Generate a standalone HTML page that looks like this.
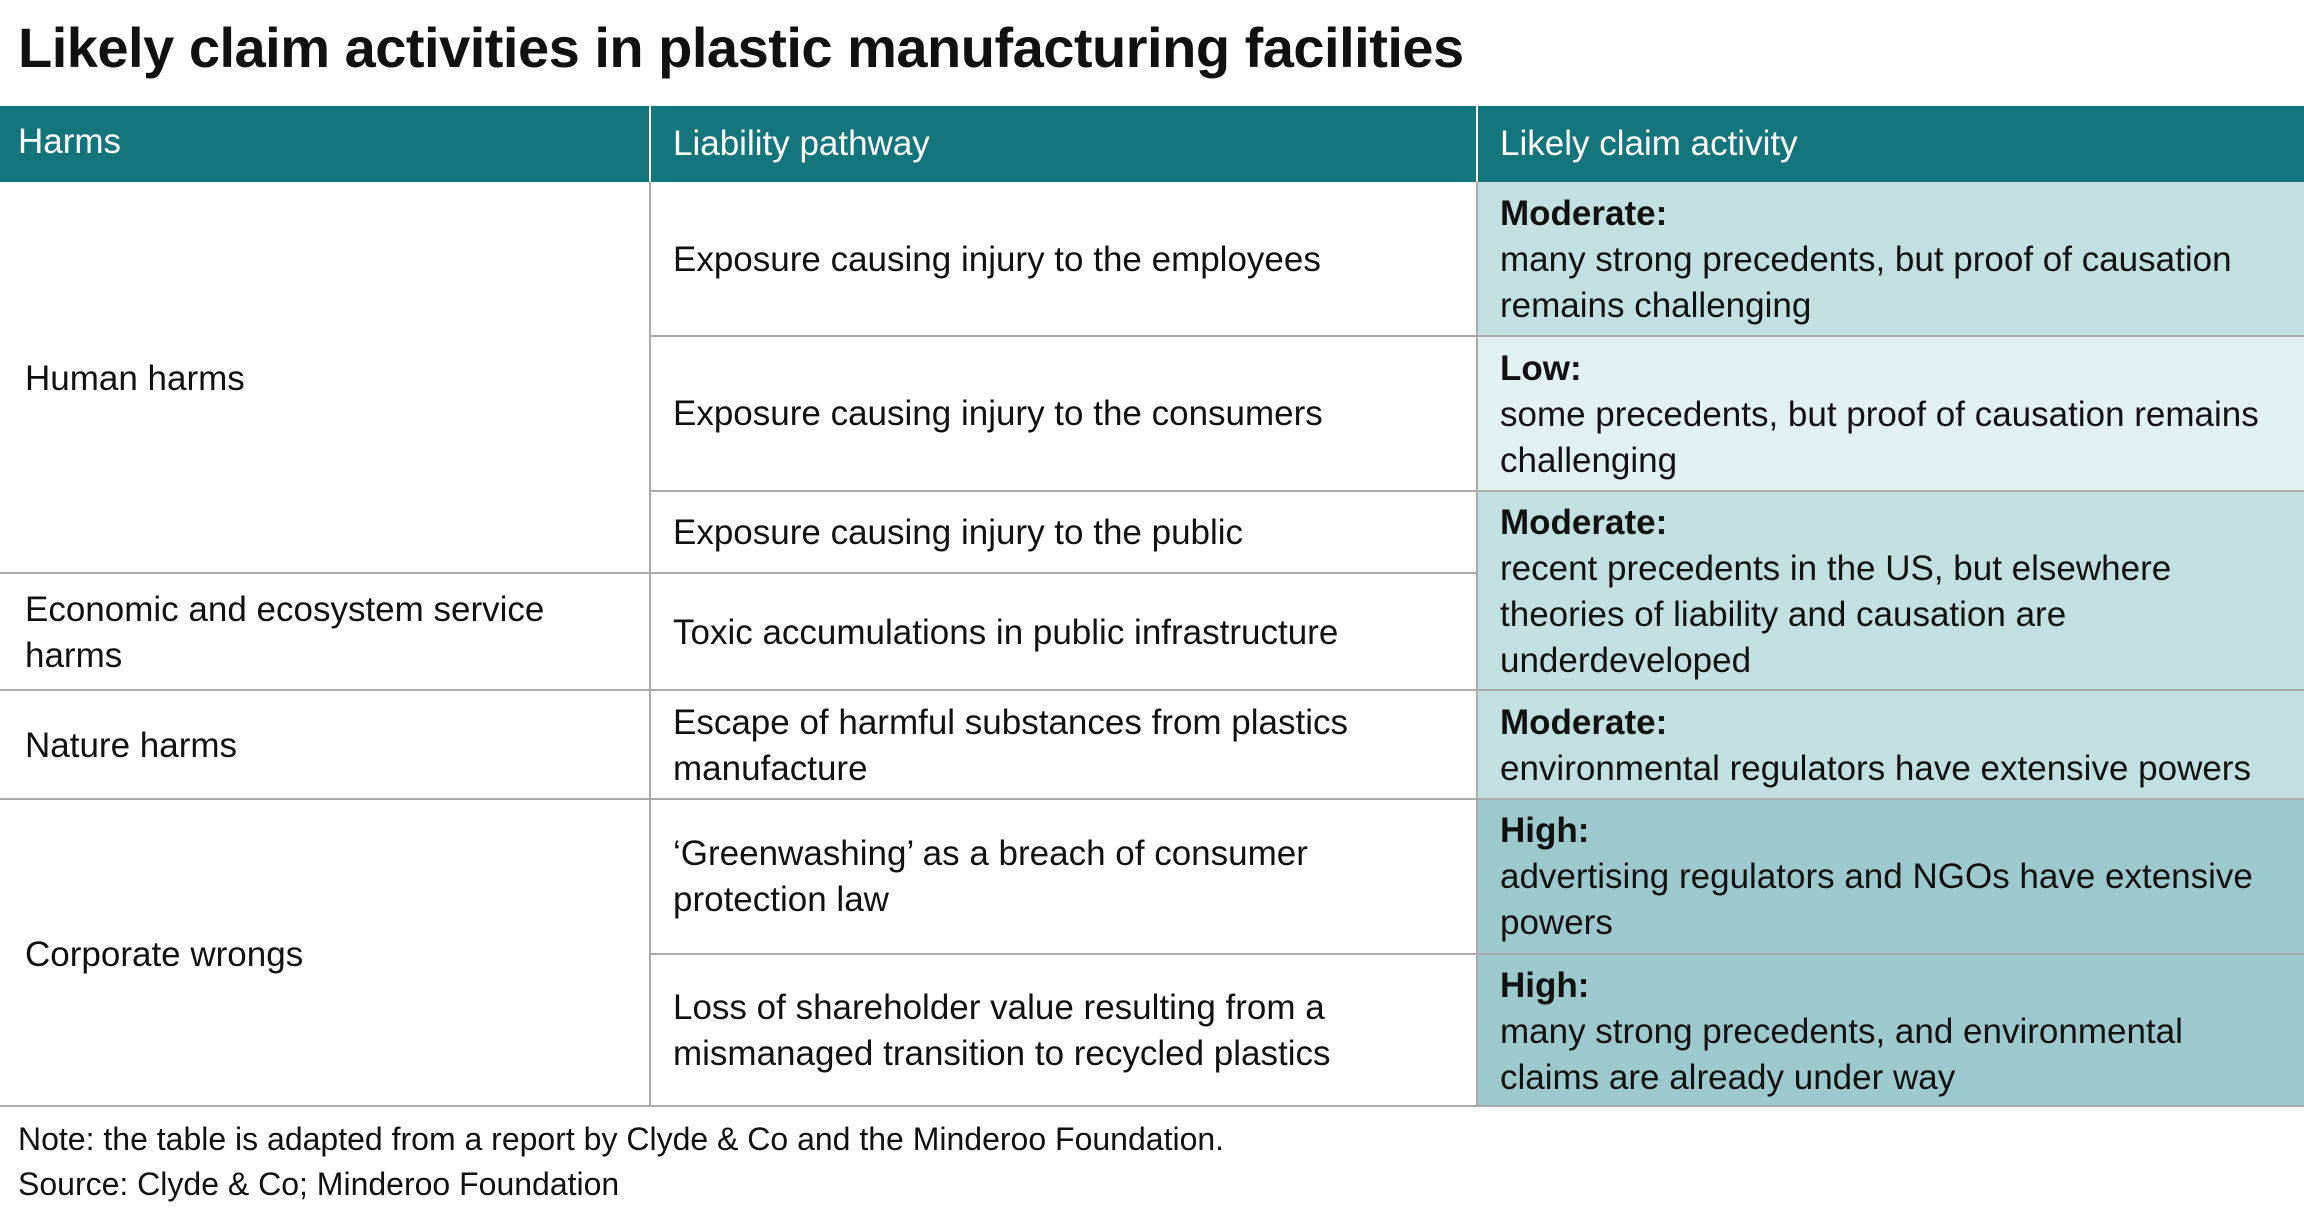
<!DOCTYPE html>
<html><head><meta charset="utf-8"><style>
body{margin:0;width:2304px;height:1224px;background:#fff;position:relative;overflow:hidden;font-family:"Liberation Sans",sans-serif;color:#111}
.a{position:absolute}
.t{position:absolute;font-size:35px;line-height:46px;white-space:nowrap}
.b{font-weight:bold}
.hl{position:absolute;height:2px;background:#aaa}
.vl{position:absolute;width:2px;background:#aaa}
</style></head><body>
<div class="a" style="left:18px;top:14px;font-size:56px;line-height:68px;font-weight:bold;letter-spacing:-0.5px">Likely claim activities in plastic manufacturing facilities</div>
<div class="a" style="left:0;top:106px;width:2304px;height:76px;background:#14757d"></div>
<div class="a" style="left:649px;top:106px;width:2px;height:76px;background:#fff"></div>
<div class="a" style="left:1476px;top:106px;width:2px;height:76px;background:#fff"></div>
<div class="t" style="left:18px;top:119px;color:#fff">Harms</div>
<div class="t" style="left:673px;top:121px;color:#fff">Liability pathway</div>
<div class="t" style="left:1500px;top:121px;color:#fff">Likely claim activity</div>
<div class="a" style="left:1477px;top:182px;width:827px;height:154px;background:#c3dfe0"></div>
<div class="a" style="left:1477px;top:336px;width:827px;height:155px;background:#e3f0f0"></div>
<div class="a" style="left:1477px;top:491px;width:827px;height:199px;background:#c3dfe0"></div>
<div class="a" style="left:1477px;top:690px;width:827px;height:109px;background:#c3dfe0"></div>
<div class="a" style="left:1477px;top:799px;width:827px;height:307px;background:#9ccacc"></div>
<div class="hl" style="left:649px;top:335px;width:1655px"></div>
<div class="hl" style="left:649px;top:490px;width:1655px"></div>
<div class="hl" style="left:0;top:572px;width:1477px"></div>
<div class="hl" style="left:0;top:689px;width:2304px"></div>
<div class="hl" style="left:0;top:798px;width:2304px"></div>
<div class="hl" style="left:649px;top:953px;width:1655px"></div>
<div class="hl" style="left:0;top:1105px;width:2304px"></div>
<div class="vl" style="left:649px;top:182px;height:924px"></div>
<div class="vl" style="left:1476px;top:182px;height:924px"></div>
<div class="t" style="left:25px;top:356px">Human harms</div>
<div class="t" style="left:25px;top:587px">Economic and ecosystem service<br>harms</div>
<div class="t" style="left:25px;top:723px">Nature harms</div>
<div class="t" style="left:25px;top:932px">Corporate wrongs</div>
<div class="t" style="left:673px;top:237px">Exposure causing injury to the employees</div>
<div class="t" style="left:673px;top:391px">Exposure causing injury to the consumers</div>
<div class="t" style="left:673px;top:510px">Exposure causing injury to the public</div>
<div class="t" style="left:673px;top:610px">Toxic accumulations in public infrastructure</div>
<div class="t" style="left:673px;top:700px">Escape of harmful substances from plastics<br>manufacture</div>
<div class="t" style="left:673px;top:831px">‘Greenwashing’ as a breach of consumer<br>protection law</div>
<div class="t" style="left:673px;top:985px">Loss of shareholder value resulting from a<br>mismanaged transition to recycled plastics</div>
<div class="t" style="left:1500px;top:191px"><span class="b">Moderate:</span><br>many strong precedents, but proof of causation<br>remains challenging</div>
<div class="t" style="left:1500px;top:346px"><span class="b">Low:</span><br>some precedents, but proof of causation remains<br>challenging</div>
<div class="t" style="left:1500px;top:500px"><span class="b">Moderate:</span><br>recent precedents in the US, but elsewhere<br>theories of liability and causation are<br>underdeveloped</div>
<div class="t" style="left:1500px;top:700px"><span class="b">Moderate:</span><br>environmental regulators have extensive powers</div>
<div class="t" style="left:1500px;top:808px"><span class="b">High:</span><br>advertising regulators and NGOs have extensive<br>powers</div>
<div class="t" style="left:1500px;top:963px"><span class="b">High:</span><br>many strong precedents, and environmental<br>claims are already under way</div>
<div class="a" style="left:18px;top:1122px;font-size:32px;line-height:34px">Note: the table is adapted from a report by Clyde &amp; Co and the Minderoo Foundation.</div>
<div class="a" style="left:18px;top:1167px;font-size:32px;line-height:34px">Source: Clyde &amp; Co; Minderoo Foundation</div>
</body></html>
